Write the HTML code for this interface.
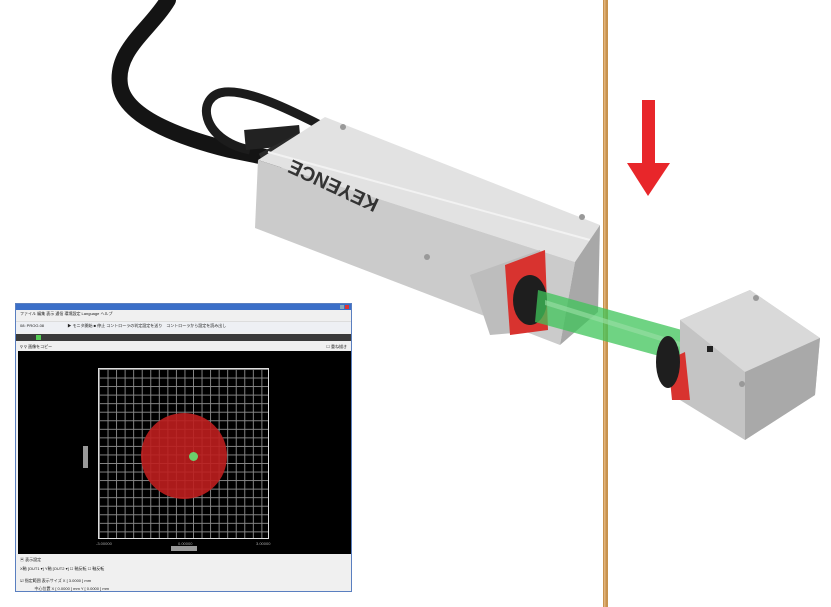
<!DOCTYPE html>
<html><head><meta charset="utf-8"><style>
html,body{margin:0;padding:0;background:#fff;}
body{width:831px;height:607px;position:relative;overflow:hidden;font-family:"Liberation Sans","Noto Sans CJK JP",sans-serif;}
.win{position:absolute;left:15px;top:303px;width:337px;height:289px;background:#f0f0f0;border:1px solid #5a7fc0;box-sizing:border-box;}
.t{font-size:4px;color:#222;position:absolute;white-space:nowrap;}
</style></head><body>
<svg width="831" height="607" style="position:absolute;left:0;top:0">
<rect x="603" y="0" width="5" height="607" fill="#c8934f"/>
<rect x="604" y="0" width="1.5" height="607" fill="#e2b37a"/>
<rect x="642" y="100" width="13" height="65" fill="#e8262a"/>
<polygon points="627,163 670,163 648,196" fill="#e8262a"/>
<path d="M168,0 C150,30 115,50 120,85 C125,120 190,140 230,150 L280,160" stroke="#141414" stroke-width="16" fill="none" stroke-linecap="round"/>
<path d="M250,150 C200,140 195,95 225,92 C250,90 290,110 320,125" stroke="#1c1c1c" stroke-width="9" fill="none"/>
<path d="M245,140 L300,135" stroke="#222" stroke-width="20" fill="none"/>
<path d="M262,160 L300,140" stroke="#2a2a2a" stroke-width="14" fill="none"/>
<polygon points="325,117 600,225 575,262 258,160" fill="#e2e2e2"/>
<polygon points="258,160 575,262 560,345 255,228" fill="#cbcbcb"/>
<line x1="268" y1="152" x2="590" y2="240" stroke="#f2f2f2" stroke-width="2"/>
<polygon points="470,275 540,250 548,330 490,335" fill="#bdbdbd"/>
<polygon points="575,262 600,225 598,312 560,345" fill="#a8a8a8"/>
<polygon points="505,265 545,250 548,330 510,335" fill="#d8332f"/>
<ellipse cx="530" cy="300" rx="17" ry="25" fill="#1e1e1e"/>
<circle cx="343" cy="127" r="3" fill="#999"/>
<circle cx="582" cy="217" r="3" fill="#999"/>
<circle cx="427" cy="257" r="3" fill="#999"/>
<text x="0" y="0" font-size="20" font-weight="bold" fill="#333" transform="translate(380,200) rotate(205)" font-family="Liberation Sans">KEYENCE</text>
<polygon points="538,290 700,335 692,365 535,322" fill="#3fc45a" opacity="0.75"/>
<polygon points="545,300 690,345 690,350 545,305" fill="#9be0a6" opacity="0.6"/>
<polygon points="680,320 750,290 820,338 815,395 745,440 680,400" fill="#c4c4c4"/>
<polygon points="680,320 750,290 820,338 745,372" fill="#d9d9d9"/>
<polygon points="745,372 820,338 815,395 745,440" fill="#a9a9a9"/>
<polygon points="668,360 685,352 690,400 672,400" fill="#d8332f"/>
<ellipse cx="668" cy="362" rx="12" ry="26" fill="#1e1e1e"/>
<circle cx="756" cy="298" r="3" fill="#999"/>
<circle cx="742" cy="384" r="3" fill="#999"/>
<rect x="707" y="346" width="6" height="6" fill="#222"/>
</svg>
<div class="win">
 <div style="position:absolute;left:0;top:0;right:0;height:6px;background:#3b6fc8"></div>
 <div style="position:absolute;right:2px;top:1px;width:4px;height:4px;background:#d33"></div>
 <div style="position:absolute;right:7px;top:1px;width:4px;height:4px;background:#8ab"></div>
 <span class="t" style="left:4px;top:7px">ファイル 編集 表示 通信 環境設定 Language ヘルプ</span>
 <div style="position:absolute;left:0;top:17px;right:0;height:10px;background:#eef0f4;border-top:1px solid #ddd"></div>
 <span class="t" style="left:4px;top:19px">08: PROG.08 &nbsp;&nbsp;&nbsp;&nbsp;&nbsp;&nbsp;&nbsp;&nbsp;&nbsp;&nbsp;&nbsp;&nbsp;&nbsp;&nbsp;&nbsp;&nbsp;&nbsp;&nbsp;&nbsp; ▶ モニタ開始 ■ 停止 コントローラの判定設定を送り　コントローラから設定を読み出し</span>
 <div style="position:absolute;left:0;top:30px;right:0;height:7px;background:#3a3a3a"></div>
 <div style="position:absolute;left:20px;top:31px;width:5px;height:5px;background:#5c5"></div>
 <span class="t" style="left:4px;top:40px">⚲ ⚲ 画像をコピー</span>
 <span class="t" style="right:4px;top:40px">☐ 重ね描き</span>
 <div style="position:absolute;left:2px;top:47px;width:333px;height:203px;background:#000">
  <div style="position:absolute;left:80px;top:17px;width:171px;height:171px;border:1px solid #ddd;box-sizing:border-box;background-image:linear-gradient(#888 1px,transparent 1px),linear-gradient(90deg,#888 1px,transparent 1px);background-size:8.55px 8.55px;"></div>
  <div style="position:absolute;left:123px;top:62px;width:86px;height:86px;border-radius:50%;background:rgba(190,30,30,0.9)"></div>
  <div style="position:absolute;left:171px;top:101px;width:9px;height:9px;border-radius:50%;background:#6ccf6c"></div>
  <div style="position:absolute;left:153px;top:195px;width:26px;height:5px;background:#999"></div>
  <div style="position:absolute;left:65px;top:95px;width:5px;height:22px;background:#999"></div>
  <span class="t" style="left:78px;top:190px;color:#aaa">-3.00000</span>
  <span class="t" style="left:160px;top:190px;color:#aaa">0.00000</span>
  <span class="t" style="left:238px;top:190px;color:#aaa">3.00000</span>
 </div>
 <span class="t" style="left:4px;top:253px">▣ 表示設定</span>
 <span class="t" style="left:4px;top:262px">X軸 [OUT1 ▾] Y軸 [OUT2 ▾] ☐ 軸反転 ☐ 軸反転</span>
 <span class="t" style="left:4px;top:274px">☑ 指定範囲 表示サイズ X [ 3.0000 ] mm</span>
 <span class="t" style="left:4px;top:282px">&nbsp;&nbsp;&nbsp;&nbsp;&nbsp;&nbsp;&nbsp;&nbsp;&nbsp;&nbsp;&nbsp;&nbsp; 中心位置 X [ 0.0000 ] mm Y [ 0.0000 ] mm</span>
</div>
</body></html>
